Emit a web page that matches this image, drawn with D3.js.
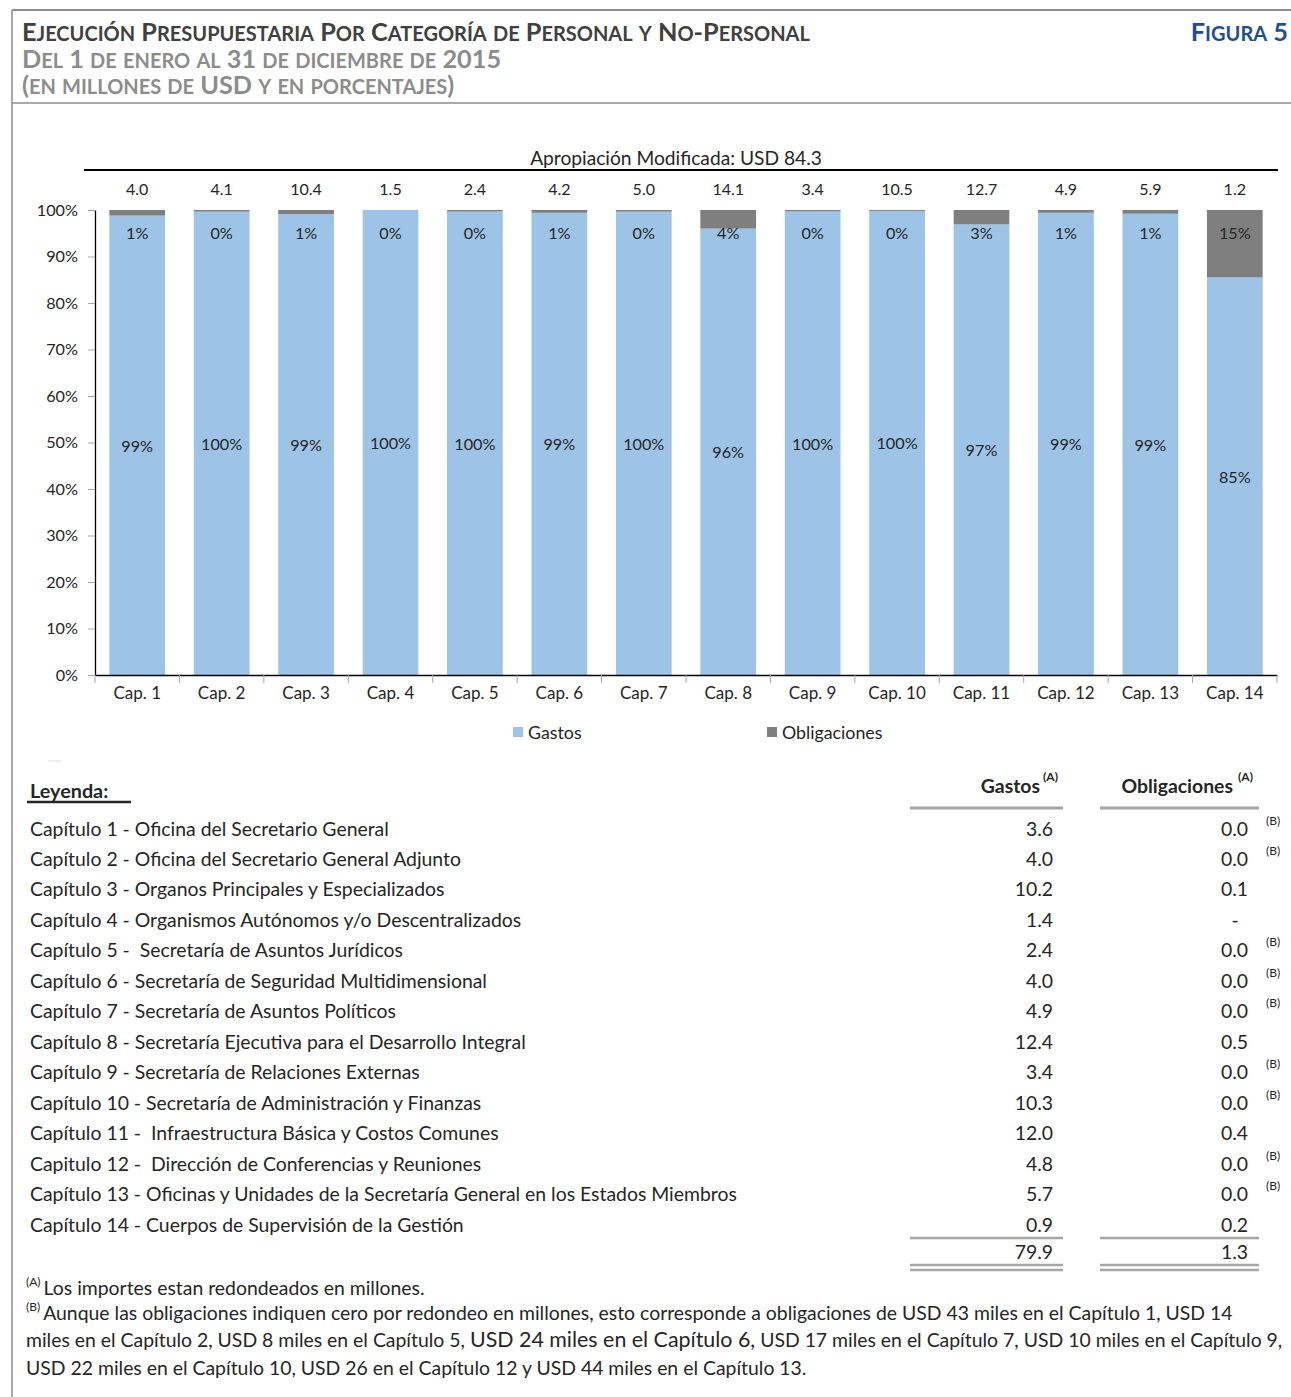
<!DOCTYPE html>
<html lang="es">
<head>
	<meta charset="UTF-8">
	<title>Figura 5 - Ejecución Presupuestaria</title>
	<script src="https://cdnjs.cloudflare.com/ajax/libs/d3/7.8.5/d3.min.js"></script>
	<style>
		body { margin: 0; background: #fff; }
		svg { display: block; font-family: Lato, 'Open Sans', sans-serif; }
		.axis text { fill: #262626; font-family: Lato, sans-serif; }
	</style>
</head>
<body>
	<svg id="chart"></svg>
	<script>
		// chart data
		const cats = ['Cap. 1', 'Cap. 2', 'Cap. 3', 'Cap. 4', 'Cap. 5', 'Cap. 6', 'Cap. 7',
			'Cap. 8', 'Cap. 9', 'Cap. 10', 'Cap. 11', 'Cap. 12', 'Cap. 13', 'Cap. 14'];
		const apropiacion = ['4.0', '4.1', '10.4', '1.5', '2.4', '4.2', '5.0', '14.1', '3.4', '10.5', '12.7', '4.9', '5.9', '1.2'];
		const gastosPct = [98.8, 99.65, 99.1, 100, 99.67, 99.4, 99.65, 96.0, 99.7, 99.8, 96.9, 99.4, 99.2, 85.5];
		const obligPct = [1.2, 0.35, 0.9, 0, 0.33, 0.6, 0.35, 4.0, 0.3, 0.2, 3.1, 0.6, 0.8, 14.5];
		const gastosLbl = ['99%', '100%', '99%', '100%', '100%', '99%', '100%', '96%', '100%', '100%', '97%', '99%', '99%', '85%'];
		const obligLbl = ['1%', '0%', '1%', '0%', '0%', '1%', '0%', '4%', '0%', '0%', '3%', '1%', '1%', '15%'];
		const yTicks = [0, 10, 20, 30, 40, 50, 60, 70, 80, 90, 100];

		// legend table
		const capitulos = [
			'Capítulo 1 - Oficina del Secretario General',
			'Capítulo 2 - Oficina del Secretario General Adjunto',
			'Capítulo 3 - Organos Principales y Especializados',
			'Capítulo 4 - Organismos Autónomos y/o Descentralizados',
			'Capítulo 5 -  Secretaría de Asuntos Jurídicos',
			'Capítulo 6 - Secretaría de Seguridad Multidimensional',
			'Capítulo 7 - Secretaría de Asuntos Políticos',
			'Capítulo 8 - Secretaría Ejecutiva para el Desarrollo Integral',
			'Capítulo 9 - Secretaría de Relaciones Externas',
			'Capítulo 10 - Secretaría de Administración y Finanzas',
			'Capítulo 11 -  Infraestructura Básica y Costos Comunes',
			'Capitulo 12 -  Dirección de Conferencias y Reuniones',
			'Capítulo 13 - Oficinas y Unidades de la Secretaría General en los Estados Miembros',
			'Capítulo 14 - Cuerpos de Supervisión de la Gestión'
		];
		const tablaGastos = ['3.6', '4.0', '10.2', '1.4', '2.4', '4.0', '4.9', '12.4', '3.4', '10.3', '12.0', '4.8', '5.7', '0.9'];
		const tablaOblig = ['0.0', '0.0', '0.1', '-', '0.0', '0.0', '0.0', '0.5', '0.0', '0.0', '0.4', '0.0', '0.0', '0.2'];
		const notaB = [true, true, false, false, true, true, true, false, true, true, false, true, true, false];
		const totalGastos = '79.9';
		const totalOblig = '1.3';

		const blue = '#9dc3e6';
		const grey = '#7f7f7f';
		const ink = '#262626';
		const fs = 19.4; // body text size

		const svg = d3.select('#chart').attr('width', 1291).attr('height', 1397);

		// fake small caps: lower-case letters become smaller capitals
		function smallCaps(sel, str, big, small) {
			const runs = [];
			for (const ch of str) {
				const low = ch !== ch.toUpperCase();
				const last = runs[runs.length - 1];
				if (last && last.low === low) last.s += ch;
				else runs.push({ low: low, s: ch });
			}
			runs.forEach(r => sel.append('tspan')
				.attr('font-size', r.low ? small : big)
				.text(r.low ? r.s.toUpperCase() : r.s));
		}

		// frame
		svg.append('line').attr('x1', 12).attr('x2', 1291).attr('y1', 10).attr('y2', 10)
			.attr('stroke', '#8c8c8c').attr('stroke-width', 2);
		svg.append('line').attr('x1', 12).attr('x2', 1291).attr('y1', 103).attr('y2', 103)
			.attr('stroke', '#8c8c8c').attr('stroke-width', 1.5);
		svg.append('line').attr('x1', 12).attr('x2', 12).attr('y1', 10).attr('y2', 1397)
			.attr('stroke', '#8c8c8c').attr('stroke-width', 1.5);

		// headings
		const head = svg.append('g').attr('font-weight', 'bold').style('white-space', 'pre');
		smallCaps(head.append('text').attr('x', 22).attr('y', 41).attr('fill', '#404040'),
			'Ejecución Presupuestaria Por Categoría de Personal y No-Personal', 25.3, 20);
		smallCaps(head.append('text').attr('x', 22).attr('y', 68).attr('fill', '#8c8c8c'),
			'Del 1 de enero al 31 de diciembre de 2015', 25.3, 20);
		smallCaps(head.append('text').attr('x', 22).attr('y', 94).attr('fill', '#8c8c8c'),
			'(en millones de USD y en porcentajes)', 25.3, 20);
		smallCaps(head.append('text').attr('x', 1288).attr('y', 41).attr('text-anchor', 'end').attr('fill', '#1f4e96'),
			'Figura 5', 25.3, 20);

		// scales
		const x = d3.scaleBand().domain(cats).range([95, 1277]).paddingInner(0.34).paddingOuter(0.17);
		const y = d3.scaleLinear().domain([0, 100]).range([675, 210]);

		// top caption
		svg.append('line').attr('x1', 84).attr('x2', 1278).attr('y1', 170).attr('y2', 170)
			.attr('stroke', '#000').attr('stroke-width', 2);
		svg.append('text').attr('x', 676).attr('y', 157).attr('text-anchor', 'middle')
			.attr('dominant-baseline', 'central').attr('font-size', 19.2).attr('fill', ink)
			.text('Apropiación Modificada: USD 84.3');
		svg.append('g').selectAll('text')
			.data(cats)
			.join('text')
			.attr('x', d => x(d) + x.bandwidth() / 2)
			.attr('y', 188)
			.attr('text-anchor', 'middle')
			.attr('dominant-baseline', 'central')
			.attr('font-size', 16)
			.attr('fill', ink)
			.text((d, i) => apropiacion[i]);

		// stacked bars
		const rows = cats.map((c, i) => ({ cat: c, gastos: gastosPct[i], oblig: obligPct[i] }));
		const series = d3.stack().keys(['gastos', 'oblig'])(rows);
		const color = d3.scaleOrdinal(['gastos', 'oblig'], [blue, grey]);

		svg.append('g').selectAll('g')
			.data(series)
			.join('g')
			.attr('fill', d => color(d.key))
			.selectAll('rect')
			.data(d => d)
			.join('rect')
			.attr('x', d => x(d.data.cat))
			.attr('width', x.bandwidth())
			.attr('y', d => y(d[1]))
			.attr('height', d => y(d[0]) - y(d[1]));

		// axes
		const leftAxis = d3.axisLeft(y).tickValues(yTicks).tickFormat(d => d + '%')
			.tickSize(7).tickSizeOuter(0).tickPadding(10);
		const gy = svg.append('g').attr('class', 'axis')
			.attr('transform', 'translate(95,0)')
			.call(leftAxis);
		gy.selectAll('text').attr('font-size', 16.2);
		gy.select('.domain').attr('stroke', '#000').attr('stroke-width', 1.3);
		gy.selectAll('.tick line').attr('stroke', '#a6a6a6');

		const bottomAxis = d3.axisBottom(x).tickSize(0).tickSizeOuter(0).tickPadding(12);
		const gx = svg.append('g').attr('class', 'axis')
			.attr('transform', 'translate(0,675)')
			.call(bottomAxis);
		gx.selectAll('text').attr('font-size', 17);
		gx.select('.domain').attr('stroke', '#000').attr('stroke-width', 1.3);
		gx.append('g').selectAll('line')
			.data(d3.range(cats.length + 1))
			.join('line')
			.attr('x1', i => x.range()[0] + i * x.step())
			.attr('x2', i => x.range()[0] + i * x.step())
			.attr('y1', 0)
			.attr('y2', 8)
			.attr('stroke', '#a6a6a6');

		// segment labels
		svg.append('g').selectAll('text')
			.data(rows)
			.join('text')
			.attr('x', d => x(d.cat) + x.bandwidth() / 2)
			.attr('y', d => (y(0) + y(d.gastos)) / 2)
			.attr('text-anchor', 'middle')
			.attr('dominant-baseline', 'central')
			.attr('font-size', 16.2)
			.attr('fill', ink)
			.text((d, i) => gastosLbl[i]);
		svg.append('g').selectAll('text')
			.data(rows)
			.join('text')
			.attr('x', d => x(d.cat) + x.bandwidth() / 2)
			.attr('y', y(100) + 22)
			.attr('text-anchor', 'middle')
			.attr('dominant-baseline', 'central')
			.attr('font-size', 16.2)
			.attr('fill', ink)
			.text((d, i) => obligLbl[i]);

		// legend
		const legend = [
			{ key: 'gastos', label: 'Gastos', x: 513 },
			{ key: 'oblig', label: 'Obligaciones', x: 767 }
		];
		const lg = svg.append('g').selectAll('g')
			.data(legend)
			.join('g')
			.attr('transform', d => `translate(${d.x},727)`);
		lg.append('rect').attr('width', 10).attr('height', 10).attr('fill', d => color(d.key));
		lg.append('text').attr('x', 15).attr('y', 5).attr('dominant-baseline', 'central')
			.attr('font-size', 17.8).attr('fill', ink).text(d => d.label);

		svg.append('line').attr('x1', 48).attr('x2', 61).attr('y1', 761).attr('y2', 761)
			.attr('stroke', '#e0e0e0').attr('stroke-width', 1);

		// legend table
		svg.append('text').attr('x', 30).attr('y', 790).attr('dominant-baseline', 'central')
			.attr('font-size', fs + 0.4).attr('font-weight', 'bold').attr('fill', ink).text('Leyenda:');
		svg.append('line').attr('x1', 27).attr('x2', 131).attr('y1', 802).attr('y2', 802)
			.attr('stroke', ink).attr('stroke-width', 2.5);

		const header = svg.append('g').attr('font-size', fs).attr('font-weight', 'bold').attr('fill', ink);
		header.append('text').attr('x', 1040).attr('y', 785).attr('text-anchor', 'end')
			.attr('dominant-baseline', 'central').text('Gastos');
		header.append('text').attr('x', 1043).attr('y', 776).attr('font-size', 12)
			.attr('dominant-baseline', 'central').text('(A)');
		header.append('text').attr('x', 1233).attr('y', 785).attr('text-anchor', 'end')
			.attr('dominant-baseline', 'central').text('Obligaciones');
		header.append('text').attr('x', 1238).attr('y', 776).attr('font-size', 12)
			.attr('dominant-baseline', 'central').text('(A)');

		const cols = [[910, 1063], [1100, 1259]];
		const rule = (yy, w) => cols.forEach(c => svg.append('line')
			.attr('x1', c[0]).attr('x2', c[1]).attr('y1', yy).attr('y2', yy)
			.attr('stroke', '#a6a6a6').attr('stroke-width', w));
		rule(808, 3);
		rule(1238, 2.5);
		rule(1265, 2.5);
		rule(1270, 2.5);

		const rowY = d3.scaleLinear().domain([0, capitulos.length - 1]).range([828, 1224]);
		const tbl = svg.append('g').attr('font-size', fs).attr('fill', ink);
		tbl.selectAll('text.name')
			.data(capitulos)
			.join('text')
			.attr('class', 'name')
			.attr('x', 30)
			.attr('y', (d, i) => rowY(i))
			.attr('dominant-baseline', 'central')
			.style('white-space', 'pre')
			.text(d => d);
		tbl.selectAll('text.gas')
			.data(tablaGastos)
			.join('text')
			.attr('class', 'gas')
			.attr('x', 1053)
			.attr('y', (d, i) => rowY(i))
			.attr('text-anchor', 'end')
			.attr('dominant-baseline', 'central')
			.text(d => d);
		tbl.selectAll('text.obl')
			.data(tablaOblig)
			.join('text')
			.attr('class', 'obl')
			.attr('x', d => d === '-' ? 1235 : 1248)
			.attr('y', (d, i) => rowY(i))
			.attr('text-anchor', d => d === '-' ? 'middle' : 'end')
			.attr('dominant-baseline', 'central')
			.text(d => d);
		tbl.selectAll('text.nb')
			.data(notaB)
			.join('text')
			.attr('class', 'nb')
			.attr('x', 1266)
			.attr('y', (d, i) => rowY(i) - 8)
			.attr('font-size', 12)
			.attr('dominant-baseline', 'central')
			.text(d => d ? '(B)' : '');
		tbl.append('text').attr('x', 1053).attr('y', 1251).attr('text-anchor', 'end')
			.attr('dominant-baseline', 'central').text(totalGastos);
		tbl.append('text').attr('x', 1248).attr('y', 1251).attr('text-anchor', 'end')
			.attr('dominant-baseline', 'central').text(totalOblig);

		// footnotes
		const notes = svg.append('g').attr('font-size', fs).attr('fill', ink).style('white-space', 'pre');
		const n1 = notes.append('text').attr('x', 26).attr('y', 1287).attr('dominant-baseline', 'central');
		n1.append('tspan').attr('font-size', 12).attr('dy', -6).text('(A)');
		n1.append('tspan').attr('dy', 6).attr('dx', 3).text('Los importes  estan redondeados en millones.');
		const n2 = notes.append('text').attr('x', 26).attr('y', 1312).attr('dominant-baseline', 'central');
		n2.append('tspan').attr('font-size', 12).attr('dy', -6).text('(B)');
		n2.append('tspan').attr('dy', 6).attr('dx', 3)
			.text('Aunque las obligaciones indiquen cero por redondeo en millones, esto corresponde a obligaciones de USD 43 miles en el Capítulo 1, USD 14');
		const n3 = notes.append('text').attr('x', 26).attr('y', 1339).attr('dominant-baseline', 'central');
		n3.append('tspan').text('miles en el Capítulo 2, USD 8 miles en el Capítulo 5, ');
		n3.append('tspan').attr('font-size', fs + 2).text('USD 24 miles en el Capítulo 6,');
		n3.append('tspan').text(' USD 17 miles en el Capítulo 7, USD 10 miles en el Capítulo 9,');
		notes.append('text').attr('x', 26).attr('y', 1367).attr('dominant-baseline', 'central')
			.text('USD 22 miles en el Capítulo 10, USD 26 en el Capítulo 12 y USD 44 miles en el Capítulo 13.');
	</script>
</body>
</html>
